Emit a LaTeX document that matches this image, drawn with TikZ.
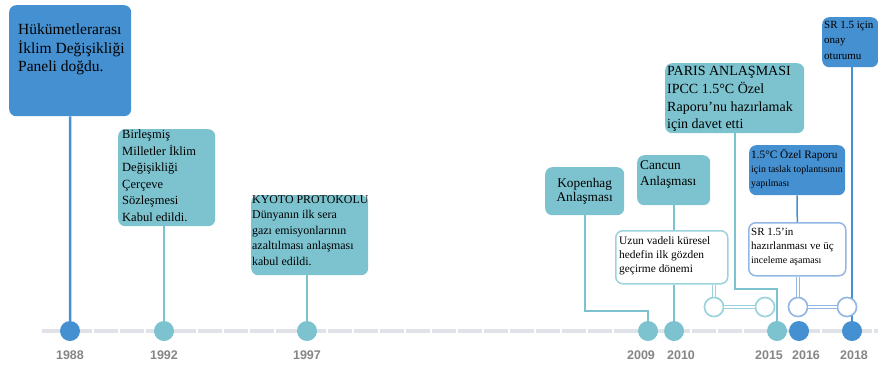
\documentclass[tikz,border=0pt]{standalone}
\usepackage{fontspec}
\setmainfont{Liberation Serif}
\newfontfamily\yearfont{Liberation Sans}
\definecolor{cblue}{HTML}{4590D1}
\definecolor{cteal}{HTML}{7CC3CF}
\definecolor{ctealL}{HTML}{9AD3DC}
\definecolor{cblueL}{HTML}{93B7E4}
\definecolor{cgray}{HTML}{DFE3E8}
\definecolor{cyear}{HTML}{858585}
\begin{document}
\begin{tikzpicture}[x=1pt,y=-1pt,
  box/.style={rounded corners=7pt, inner sep=0, anchor=north west},
  bluebox/.style={box, fill=cblue},
  tealbox/.style={box, fill=cteal},
  wtealbox/.style={box, fill=white, draw=ctealL, line width=1.5pt},
  wbluebox/.style={box, fill=white, draw=cblueL, line width=1.5pt},
  txt/.style={inner sep=0, anchor=north west, align=left, text=black},
  tdot/.style={circle, minimum size=20pt, inner sep=0, fill=cteal},
  bdot/.style={circle, minimum size=20pt, inner sep=0, fill=cblue},
  tring/.style={circle, minimum size=19pt, inner sep=0, fill=white, draw=ctealL, line width=1.5pt},
  bring/.style={circle, minimum size=19pt, inner sep=0, fill=white, draw=cblueL, line width=1.5pt},
  tstem/.style={draw=cteal, line width=2pt},
  bstem/.style={draw=cblue, line width=2.5pt},
  tdbl/.style={draw=ctealL, line width=1pt, double=white, double distance=2.5pt},
  bdbl/.style={draw=cblueL, line width=1pt, double=white, double distance=2.5pt},
  year/.style={font=\yearfont\bfseries\fontsize{12.5}{14}\selectfont, text=cyear, inner sep=0}
]
\useasboundingbox (0,0) rectangle (878,365);

% timeline
\coordinate (tl0) at (42,331);
\coordinate (tl1) at (878,331);
\draw[cgray, line width=4pt, dash pattern=on 24pt off 2pt] (tl0) -- (tl1);

% dots
\node[bdot] (d88) at (70,331) {};
\node[tdot] (d92) at (164,331) {};
\node[tdot] (d97) at (307,331) {};
\node[tdot] (d09) at (648,331) {};
\node[tdot] (d10) at (674,331) {};
\node[tdot] (d15) at (777,331) {};
\node[bdot] (d16) at (799,331) {};
\node[bdot] (d18) at (852,331) {};

% boxes
\node[bluebox, minimum width=122pt, minimum height=111pt] (b88) at (9,5) {};
\node[tealbox, minimum width=97pt, minimum height=97pt] (b92) at (118,129) {};
\node[tealbox, minimum width=117pt, minimum height=80pt] (b97) at (251,195) {};
\node[tealbox, minimum width=79pt, minimum height=48pt] (kop) at (545,167) {};
\node[tealbox, minimum width=73pt, minimum height=50pt] (can) at (637,155) {};
\node[wtealbox, minimum width=112pt, minimum height=53pt] (wb) at (615,230) {};
\node[tealbox, minimum width=139pt, minimum height=70pt] (par) at (665,63) {};
\node[bluebox, minimum width=96pt, minimum height=50pt] (b15) at (749,145) {};
\node[wbluebox, minimum width=97pt, minimum height=53pt] (sr) at (748,222) {};
\node[bluebox, minimum width=56pt, minimum height=50pt] (onay) at (822,17) {};

% rings
\node[tring] (r1) at (714,307) {};
\node[tring] (r2) at (765,307) {};
\node[bring] (r3) at (798,307) {};
\node[bring] (r4) at (847,307) {};

% connectors
\coordinate (k1) at (648,311);
\coordinate (p1) at (777,289);
\draw[bstem] (b88.south) -- (d88.north);
\draw[tstem] (b92.south -| d92) -- (d92.north);
\draw[tstem] (b97.south -| d97) -- (d97.north);
\draw[tstem] (kop.south) |- (k1) -- (d09.north);
\draw[tstem] (can.south -| d10) -- (wb.north -| d10);
\draw[tstem] (wb.south -| d10) -- (d10.north);
\draw[tdbl] (wb.south -| r1) -- (r1.north);
\draw[tstem] (par.south) |- (p1) -- (d15.north);
\draw[draw=cblue, line width=1.5pt] (b15.south) -- (sr.north);
\draw[bdbl] (sr.south -| r3) -- (r3.north);
\draw[bstem] (onay.south -| d18) -- (d18.north);

% rings above connectors
\node[tring] at (r1) {};
\node[tring] at (r2) {};
\node[bring] at (r3) {};
\node[bring] at (r4) {};
\draw[tdbl, shorten >=-0.5pt, shorten <=-0.5pt] (r1.east) -- (r2.west);
\draw[bdbl, shorten >=-0.5pt, shorten <=-0.5pt] (r3.east) -- (r4.west);

% texts
\node[txt, font=\fontsize{15.5}{18.5}\selectfont] (t88) at (18,24) {Hükümetlerarası\\İklim Değişikliği\\Paneli doğdu.};
\node[txt, font=\fontsize{12.5}{16.5}\selectfont] (t92) at (122,130) {Birleşmiş\\Milletler İklim\\Değişikliği\\Çerçeve\\Sözleşmesi\\Kabul edildi.};
\node[txt, font=\fontsize{11.9}{15.5}\selectfont] (t97) at (252,195) {KYOTO PROTOKOLU\\Dünyanın ilk sera\\gazı emisyonlarının\\azaltılması anlaşması\\kabul edildi.};
\node[inner sep=0, align=center, font=\fontsize{13.3}{14.5}\selectfont] (tkop) at (kop.center) {Kopenhag\\Anlaşması};
\node[txt, font=\fontsize{13.3}{16}\selectfont] (tcan) at (640,160) {Cancun\\Anlaşması};
\node[txt, font=\fontsize{11.4}{14}\selectfont] (twb) at (619,236) {Uzun vadeli küresel\\hedefin ilk gözden\\geçirme dönemi};
\node[txt, font=\fontsize{14}{17.8}\selectfont] (tpar) at (667,66) {PARIS ANLAŞMASI\\IPCC 1.5°C Özel\\Raporu'nu hazırlamak\\için davet etti};
\node[txt, font=\fontsize{9.8}{14}\selectfont] (t15) at (751,149) {{\fontsize{11.3}{14}\selectfont 1.5°C Özel Raporu}\\için taslak toplantısının\\yapılması};
\node[txt, font=\fontsize{11}{14}\selectfont] (tsr) at (751,228) {SR 1.5'in\\hazırlanması ve üç\\{\fontsize{10}{14}\selectfont inceleme aşaması}};
\node[txt, font=\fontsize{11}{15.5}\selectfont] (tonay) at (824,21) {SR 1.5 için\\onay\\oturumu};

% years
\node[year] (y88) at (70,355) {1988};
\node[year] (y92) at (164,355) {1992};
\node[year] (y97) at (307,355) {1997};
\node[year] (y09) at (641,355) {2009};
\node[year] (y10) at (681,355) {2010};
\node[year] (y15) at (769,355) {2015};
\node[year] (y16) at (806,355) {2016};
\node[year] (y18) at (854,355) {2018};
\end{tikzpicture}
\end{document}
